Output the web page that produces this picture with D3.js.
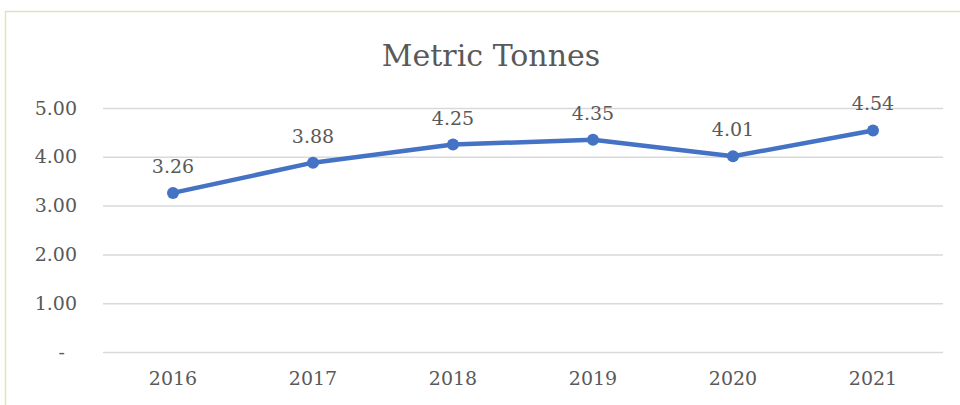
<!DOCTYPE html>
<html>
<head>
<meta charset="utf-8">
<script src="https://cdn.jsdelivr.net/npm/d3@7"></script>
<style>
  body { margin: 0; background: #fff; }
  text { font-family: "DejaVu Serif", serif; fill: #595959; }
</style>
</head>
<body>
<script>
// chart data
var years = ["2016", "2017", "2018", "2019", "2020", "2021"]
var tonnes = [3.26, 3.88, 4.25, 4.35, 4.01, 4.54]
var yTicks = [0, 1, 2, 3, 4, 5]
var title = "Metric Tonnes"

var width = 960, height = 405
var plot = { left: 103, right: 943, top: 108, bottom: 352 }

var svg = d3.select("body").append("svg")
    .attr("width", width)
    .attr("height", height)

// outer chart border (top + left visible)
svg.append("path")
    .attr("d", "M5.5,405 L5.5,11.5 L960,11.5")
    .style("fill", "none")
    .style("stroke", "#e2e2bc")
    .style("stroke-width", 1.5)

var xScale = d3.scaleBand()
    .domain(years)
    .range([plot.left, plot.right])

var yScale = d3.scaleLinear()
    .domain([0, 5])
    .range([plot.bottom, plot.top])

// gridlines + y labels
var yAxis = svg.append("g")
    .attr("class", "y axis")
    .attr("transform", "translate(" + plot.left + ",0)")
    .call(d3.axisLeft(yScale)
        .tickValues(yTicks)
        .tickSize(-(plot.right - plot.left))
        .tickPadding(26)
        .tickFormat(d => d === 0 ? "-" : d3.format(".2f")(d)))
yAxis.select(".domain").remove()
yAxis.selectAll(".tick line")
    .style("stroke", "#d9d9d9")
    .style("stroke-width", 1.5)
yAxis.selectAll(".tick text")
    .style("font-size", "19px")
    .style("font-family", "DejaVu Serif, serif")
    .attr("fill", "#595959")
    .attr("dx", d => d === 0 ? "-12" : "0")

// x labels
var xAxis = svg.append("g")
    .attr("class", "x axis")
    .attr("transform", "translate(0," + plot.bottom + ")")
    .call(d3.axisBottom(xScale).tickSize(0).tickPadding(20))
xAxis.select(".domain").remove()
xAxis.selectAll(".tick text")
    .style("font-size", "19px")
    .style("font-family", "DejaVu Serif, serif")
    .attr("fill", "#595959")

// title
svg.append("text")
    .attr("x", 491)
    .attr("y", 66)
    .style("text-anchor", "middle")
    .style("font-size", "30px")
    .text(title)

var dataset = years.map((y, i) => ({ x: y, y: tonnes[i] }))

var line = d3.line()
    .x(d => xScale(d.x) + xScale.bandwidth() / 2)
    .y(d => yScale(d.y))

svg.append("path")
    .datum(dataset)
    .attr("d", line)
    .style("fill", "none")
    .style("stroke", "#4472c4")
    .style("stroke-width", 4.5)
    .style("stroke-linejoin", "round")

svg.selectAll(".dot")
    .data(dataset)
    .enter().append("circle")
    .attr("class", "dot")
    .attr("cx", d => xScale(d.x) + xScale.bandwidth() / 2)
    .attr("cy", d => yScale(d.y))
    .attr("r", 6)
    .style("fill", "#4472c4")

// data labels
svg.selectAll(".lbl")
    .data(dataset)
    .enter().append("text")
    .attr("class", "lbl")
    .attr("x", d => xScale(d.x) + xScale.bandwidth() / 2)
    .attr("y", d => yScale(d.y) - 20)
    .style("text-anchor", "middle")
    .style("font-size", "19px")
    .text(d => d3.format(".2f")(d.y))
</script>
</body>
</html>
